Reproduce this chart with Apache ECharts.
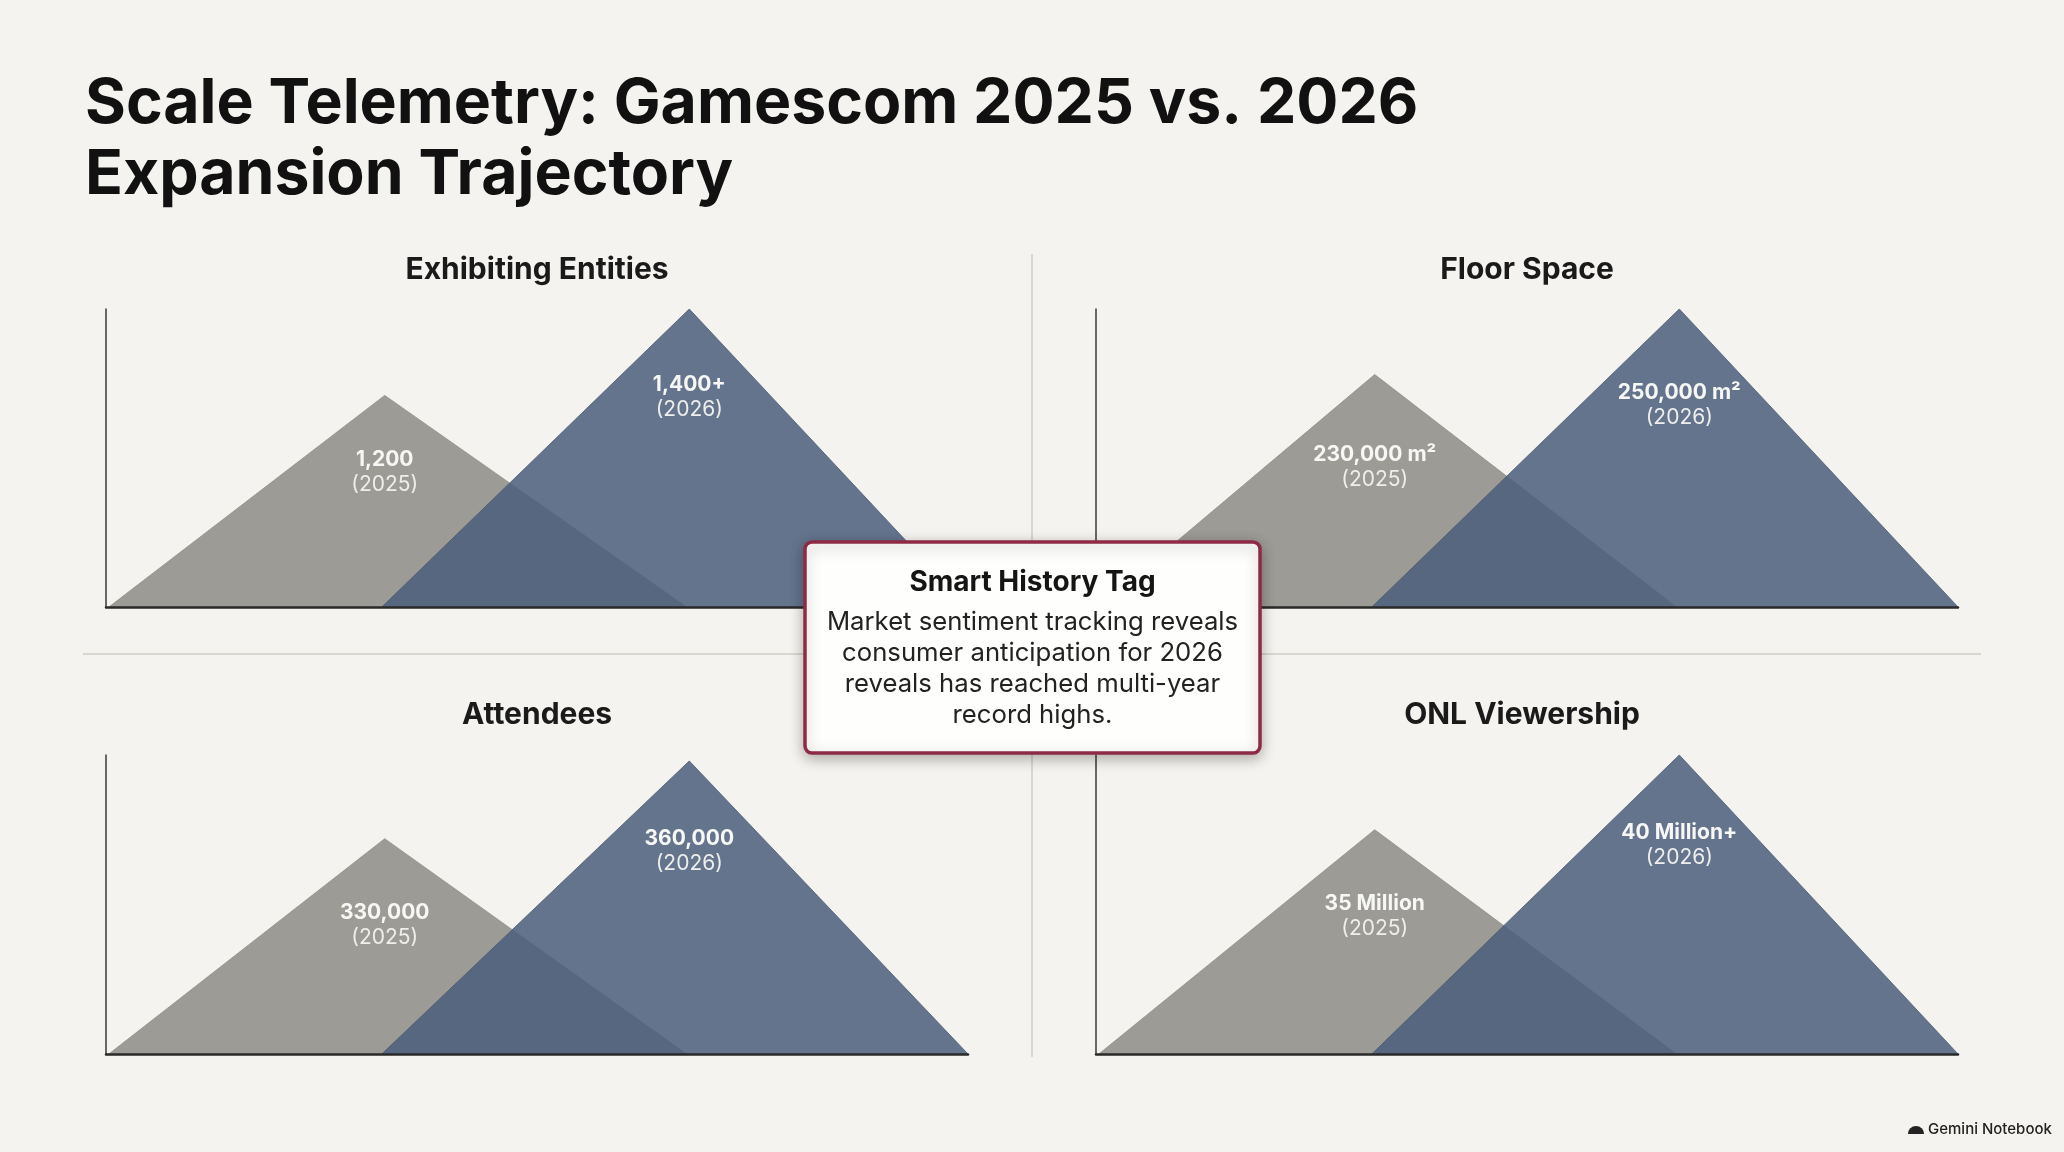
<!DOCTYPE html>
<html>
<head>
<meta charset="utf-8">
<script src="https://cdn.jsdelivr.net/npm/echarts@6/dist/echarts.min.js"></script>
<style>
html,body{margin:0;padding:0;background:#f4f3ef;}
#chart{width:2064px;height:1152px;}
</style>
</head>
<body>
<div id="chart"></div>
<script>
// ---- data ----
const panelTitles = ['Exhibiting Entities', 'Floor Space', 'Attendees', 'ONL Viewership'];
const label2025 = ['1,200', '230,000 m²', '330,000', '35 Million'];
const label2026 = ['1,400+', '250,000 m²', '360,000', '40 Million+'];
// relative peak heights (index, 0-100)
const peak2025 = [71, 78, 72, 75];
const peak2026 = [100, 100, 98, 100];
// x positions (0-3 span) of the triangle base-left / apex / base-right
const xs2025 = [0.01, 0.97, 2.02];
const xs2026 = [0.96, 2.03, 3.0];
const years = ['2025', '2026'];

const calloutTitle = 'Smart History Tag';
const calloutLines = ['Market sentiment tracking reveals', 'consumer anticipation for 2026', 'reveals has reached multi-year', 'record highs.'];

// ---- layout ----
const grids = [
  {left: 106, top: 309, width: 862, height: 298},
  {left: 1096, top: 309, width: 862, height: 298},
  {left: 106, top: 755, width: 862, height: 299},
  {left: 1096, top: 755, width: 862, height: 299}
];
const titlePos = [[537, 270], [1527, 270], [537, 715], [1522, 715]];
const labelDist2025 = [51, 67, 61, 61];
const labelDist2026 = [63, 71, 65, 65];
const FONT = 'Inter, "Noto Sans", sans-serif';
const GRAY = '#9c9b96';
const BLUE = 'rgba(74,94,124,0.86)';

function apexLabel(val, year, dist) {
  return {
    show: true,
    position: 'bottom',
    distance: dist,
    formatter: '{v|' + val + '}\n{y|(' + year + ')}',
    rich: {
      v: {fontFamily: FONT, fontSize: 21, fontWeight: 'bold', color: '#f7f7f5', lineHeight: 25, align: 'center'},
      y: {fontFamily: FONT, fontSize: 21, color: '#eeeeec', lineHeight: 25, align: 'center'}
    }
  };
}

const xAxes = [], yAxes = [], series = [];
grids.forEach((g, i) => {
  xAxes.push({type: 'value', gridIndex: i, min: 0, max: 3, z: 5,
    axisLine: {show: true, onZero: false, lineStyle: {color: '#2a2a2a', width: 2.5}},
    axisTick: {show: false}, axisLabel: {show: false}, splitLine: {show: false}});
  yAxes.push({type: 'value', gridIndex: i, min: 0, max: 100, z: 5,
    axisLine: {show: true, lineStyle: {color: '#3a3a3a', width: 1.5}},
    axisTick: {show: false}, axisLabel: {show: false}, splitLine: {show: false}});
  series.push({
    name: years[0], type: 'line', xAxisIndex: i, yAxisIndex: i, z: 2,
    symbol: 'circle', symbolSize: 1, itemStyle: {color: 'transparent'},
    lineStyle: {width: 0.8, color: '#8f8e89'},
    areaStyle: {color: GRAY, opacity: 1},
    silent: true, animation: false,
    data: [[xs2025[0], 0], {value: [xs2025[1], peak2025[i]], label: apexLabel(label2025[i], years[0], labelDist2025[i])}, [xs2025[2], 0]]
  });
  series.push({
    name: years[1], type: 'line', xAxisIndex: i, yAxisIndex: i, z: 3,
    symbol: 'circle', symbolSize: 1, itemStyle: {color: 'transparent'},
    lineStyle: {width: 0.8, color: '#4a5a72'},
    areaStyle: {color: BLUE, opacity: 1},
    silent: true, animation: false,
    data: [[xs2026[0], 0], {value: [xs2026[1], peak2026[i]], label: apexLabel(label2026[i], years[1], labelDist2026[i])}, [xs2026[2], 0]]
  });
});

const graphics = [
  {type: 'line', z: 0, shape: {x1: 1032, y1: 254, x2: 1032, y2: 1057}, style: {stroke: '#cfcec9', lineWidth: 1.5}},
  {type: 'line', z: 0, shape: {x1: 83, y1: 654, x2: 1981, y2: 654}, style: {stroke: '#cfcec9', lineWidth: 1.5}}
];
panelTitles.forEach((t, i) => {
  graphics.push({type: 'text', z: 10, x: titlePos[i][0], y: titlePos[i][1],
    style: {text: t, fontFamily: FONT, fontSize: 30, fontWeight: 'bold', fill: '#1a1a1a', textAlign: 'center', textVerticalAlign: 'middle'}});
});
graphics.push({type: 'rect', z: 100, shape: {x: 805, y: 542, width: 455, height: 211, r: 7},
  style: {fill: '#fefefc', stroke: '#8e2a45', lineWidth: 3.5, shadowBlur: 14, shadowColor: 'rgba(0,0,0,0.28)', shadowOffsetY: 4}});
graphics.push({type: 'text', z: 101, x: 1032.5, y: 583,
  style: {text: calloutTitle, fontFamily: FONT, fontSize: 28, fontWeight: 'bold', fill: '#151515', textAlign: 'center', textVerticalAlign: 'middle'}});
calloutLines.forEach((l, k) => {
  graphics.push({type: 'text', z: 101, x: 1032.5, y: 622 + k * 31,
    style: {text: l, fontFamily: FONT, fontSize: 25.7, fill: '#222', textAlign: 'center', textVerticalAlign: 'middle'}});
});
// footer
graphics.push({type: 'sector', z: 10, shape: {cx: 1916, cy: 1134, r0: 0, r: 8, startAngle: Math.PI, endAngle: 2 * Math.PI}, style: {fill: '#222'}});
graphics.push({type: 'text', z: 10, x: 1928, y: 1129,
  style: {text: 'Gemini Notebook', fontFamily: FONT, fontSize: 15, fontWeight: 500, fill: '#222', textAlign: 'left', textVerticalAlign: 'middle'}});

const chart = echarts.init(document.getElementById('chart'), null, {renderer: 'canvas'});
chart.setOption({
  backgroundColor: '#f4f3ef',
  animation: false,
  title: {
    text: 'Scale Telemetry: Gamescom 2025 vs. 2026\nExpansion Trajectory',
    left: 80, top: 64,
    textStyle: {fontFamily: FONT, fontSize: 62.5, fontWeight: 'bold', color: '#111', lineHeight: 71}
  },
  grid: grids,
  xAxis: xAxes,
  yAxis: yAxes,
  series: series,
  graphic: graphics
});
</script>
</body>
</html>
